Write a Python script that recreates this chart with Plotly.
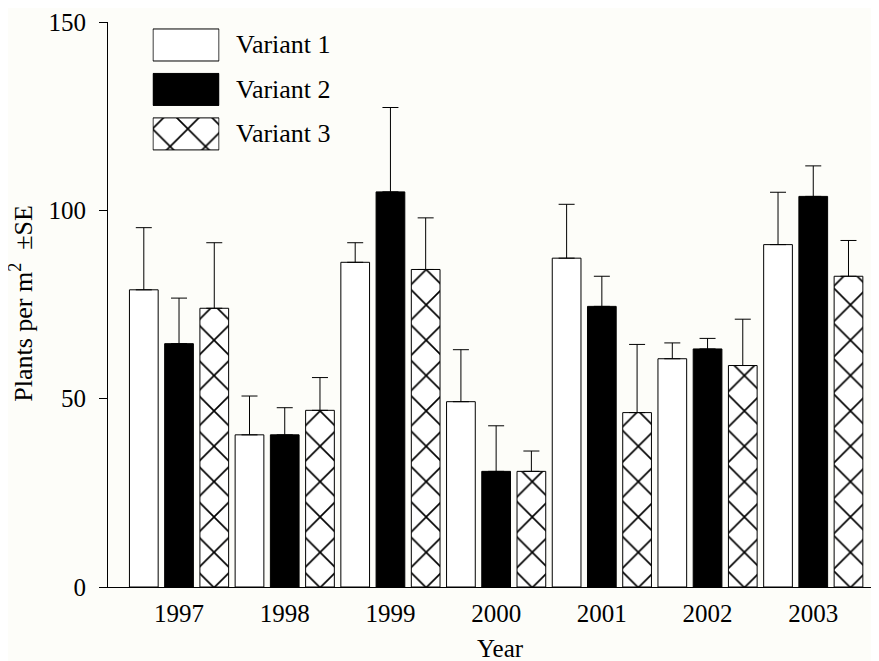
import plotly.graph_objects as go

years = ["1997", "1998", "1999", "2000", "2001", "2002", "2003"]
variant_names = ["Variant 1", "Variant 2", "Variant 3"]
v1_mean = [78.9, 40.4, 86.2, 49.2, 87.3, 60.6, 90.9]
v1_se = [16.5, 10.3, 5.2, 13.8, 14.3, 4.2, 13.9]
v2_mean = [64.6, 40.4, 104.9, 30.7, 74.5, 63.2, 103.7]
v2_se = [12.1, 7.2, 22.4, 12.1, 8.0, 2.8, 8.1]
v3_mean = [74.0, 46.9, 84.3, 30.7, 46.3, 58.8, 82.5]
v3_se = [17.4, 8.7, 13.7, 5.4, 18.1, 12.3, 9.5]
y_ticks = [0, 50, 100, 150]

FONT = "Liberation Serif, Times New Roman, serif"
BG = "#fdfdf9"

means = [v1_mean, v2_mean, v3_mean]
ses = [v1_se, v2_se, v3_se]

def marker_for(i):
    if i == 0:
        return dict(color="white", line=dict(color="black", width=1))
    if i == 1:
        return dict(color="black", line=dict(color="black", width=1))
    return dict(color="white", line=dict(color="black", width=1),
                pattern=dict(shape="x", size=25, solidity=0.13,
                             fgcolor="black", bgcolor="white", fgopacity=1))

fig = go.Figure()
for i in range(3):
    fig.add_trace(go.Bar(
        x=years, y=means[i], name=variant_names[i],
        marker=marker_for(i),
        error_y=dict(type="data", symmetric=False, array=ses[i],
                     arrayminus=[0] * len(years), color="black",
                     thickness=1, width=8),
        showlegend=False,
    ))

# custom legend swatches drawn as bars on an inset axis
for i in range(3):
    fig.add_trace(go.Bar(
        x=[1], y=[i + 1], orientation="h", width=0.72, base=0,
        marker=marker_for(i), xaxis="x2", yaxis="y2",
        showlegend=False, hoverinfo="skip",
    ))

# the page body adds an 8px margin, so the figure is made 8px smaller
OFF = 8
W, H = 879 - OFF, 661 - OFF
L, R, T = 108 - OFF, 0, 22 - OFF
B = H - (587.5 - OFF)
pw = W - L - R
ph = H - T - B

def px_x(x):
    return (x - OFF - L) / pw

def px_y(y):
    return 1 - (y - OFF - T) / ph

annotations = []
for i, name in enumerate(variant_names):
    annotations.append(dict(
        text=name, xref="paper", yref="paper", x=px_x(234), y=px_y(45 + 44.5 * i),
        xanchor="left", yanchor="middle", showarrow=False,
        font=dict(family=FONT, size=26, color="black")))
annotations.append(dict(
    text="Year", xref="paper", yref="paper", x=px_x(500), y=px_y(649),
    xanchor="center", yanchor="middle", showarrow=False,
    font=dict(family=FONT, size=25, color="black")))
annotations.append(dict(
    text="Plants per m<sup>2</sup>  ±SE", xref="paper", yref="paper",
    x=px_x(22), y=px_y(304), textangle=-90, borderpad=0,
    xanchor="center", yanchor="middle", showarrow=False,
    font=dict(family=FONT, size=26, color="black")))

fig.update_layout(
    width=W, height=H,
    margin=dict(l=L, r=R, t=T, b=B),
    paper_bgcolor=BG, plot_bgcolor=BG,
    barmode="group", bargap=0, bargroupgap=0.185,
    font=dict(family=FONT, size=25, color="black"),
    xaxis=dict(type="category", range=[-0.672, 6.622], showline=True,
               linecolor="black", linewidth=1, ticks="", showgrid=False,
               zeroline=False, ticklabelstandoff=4,
               tickfont=dict(family=FONT, size=25, color="black")),
    yaxis=dict(range=[0, 150], tickvals=y_ticks, showline=True,
               linecolor="black", linewidth=1, ticks="outside", ticklen=8,
               tickwidth=1, tickcolor="black", showgrid=False, zeroline=False,
               ticklabelstandoff=8,
               tickfont=dict(family=FONT, size=25, color="black")),
    xaxis2=dict(domain=[px_x(152.5), px_x(219.5)], range=[-0.008, 1.008],
                anchor="y2", visible=False, fixedrange=True),
    yaxis2=dict(domain=[px_y(156.25), px_y(22.75)], range=[3.5, 0.5],
                anchor="x2", visible=False, fixedrange=True),
    annotations=annotations,
)

fig.write_html("out.html")
